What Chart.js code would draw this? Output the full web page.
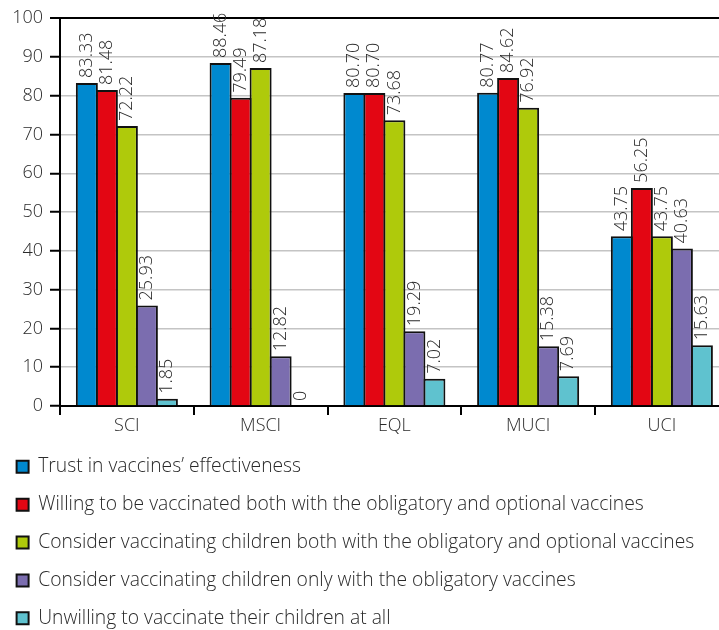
<!DOCTYPE html>
<html>
<head>
<meta charset="utf-8">
<script src="https://cdn.jsdelivr.net/npm/chart.js@4.4.1/dist/chart.umd.min.js"></script>
<style>
  html, body { margin: 0; padding: 0; overflow: hidden; background: #fff; width: 719px; height: 630px; }
  #wrap { position: absolute; left: -3px; top: 0; width: 740px; height: 638px; }
  canvas { display: block; }
</style>
</head>
<body>
<div id="wrap"><canvas id="chart" width="740" height="638"></canvas></div>
<script>
// Groups along the x axis
const categories = ['SCI', 'MSCI', 'EQL', 'MUCI', 'UCI'];

// Series names (legend)
const seriesNames = [
  'Trust in vaccines\u2019 effectiveness',
  'Willing to be vaccinated both with the obligatory and optional vaccines',
  'Consider vaccinating children both with the obligatory and optional vaccines',
  'Consider vaccinating children only with the obligatory vaccines',
  'Unwilling to vaccinate their children at all'
];

// Percentages per group
const trustEffectiveness     = [83.33, 88.46, 80.70, 80.77, 43.75];
const willingBothVaccines    = [81.48, 79.49, 80.70, 84.62, 56.25];
const childrenBothVaccines   = [72.22, 87.18, 73.68, 76.92, 43.75];
const childrenObligatoryOnly = [25.93, 12.82, 19.29, 15.38, 40.63];
const unwillingChildren      = [1.85, 0, 7.02, 7.69, 15.63];

// Value axis tick labels
const yTickValues = [0, 10, 20, 30, 40, 50, 60, 70, 80, 90, 100];

const seriesColors = ['#0089cf', '#e30613', '#afca0b', '#7b6daf', '#5fc2cf'];
const seriesValues = [trustEffectiveness, willingBothVaccines, childrenBothVaccines,
                      childrenObligatoryOnly, unwillingChildren];

const FONT = '"Open Sans", "Noto Sans", sans-serif';
const WEIGHT = 300;
const TEXT = '#2a2a2a';
const LEGEND_SIZE = 19.3;

// Vertical value labels above each bar
const valueLabels = {
  id: 'valueLabels',
  afterDatasetsDraw(chart) {
    const ctx = chart.ctx;
    ctx.save();
    ctx.font = WEIGHT + ' 18px ' + FONT;
    ctx.fillStyle = TEXT;
    ctx.textAlign = 'left';
    ctx.textBaseline = 'middle';
    chart.data.datasets.forEach((ds, di) => {
      const meta = chart.getDatasetMeta(di);
      meta.data.forEach((bar, i) => {
        const v = ds.data[i];
        const txt = v === 0 ? '0' : v.toFixed(2);
        ctx.save();
        ctx.translate(bar.x, bar.y - 5);
        ctx.rotate(-Math.PI / 2);
        ctx.fillText(txt, 0, 0);
        ctx.restore();
      });
    });
    ctx.restore();
  }
};

new Chart(document.getElementById('chart'), {
  type: 'bar',
  data: {
    labels: categories,
    datasets: seriesValues.map((vals, i) => ({
      label: seriesNames[i],
      data: vals,
      backgroundColor: seriesColors[i],
      borderColor: '#111111',
      borderWidth: 2,
      borderSkipped: 'start',
      categoryPercentage: 0.748,
      barPercentage: 1.1
    }))
  },
  options: {
    responsive: false,
    devicePixelRatio: 1,
    animation: false,
    layout: { padding: { top: 18.3, right: 8.25, bottom: 0, left: 1 } },
    plugins: {
      title: { display: false },
      tooltip: { enabled: false },
      legend: {
        display: true,
        position: 'bottom',
        align: 'start',
        labels: {
          boxWidth: 12,
          boxHeight: 12,
          padding: 37.9 - LEGEND_SIZE,
          color: TEXT,
          font: { family: FONT, size: LEGEND_SIZE, weight: WEIGHT }
        }
      }
    },
    scales: {
      x: {
        offset: true,
        grid: {
          offset: true,
          drawOnChartArea: false,
          drawTicks: true,
          tickLength: 9,
          color: '#000',
          lineWidth: 2
        },
        border: { display: true, color: '#000', width: 2 },
        ticks: {
          color: TEXT,
          padding: 0,
          font: { family: FONT, size: 18, weight: WEIGHT }
        },
        afterFit(scale) { scale.height = 32.55; }
      },
      y: {
        min: 0,
        max: 100,
        afterBuildTicks(scale) { scale.ticks = yTickValues.map(v => ({ value: v })); },
        grid: {
          drawTicks: true,
          tickLength: 10,
          tickColor: '#000',
          tickWidth: 2,
          color: (c) => (c.tick && c.tick.value === 100 ? '#000' : '#c4c4c4'),
          lineWidth: (c) => (c.tick && c.tick.value === 100 ? 2 : 1.5)
        },
        border: { display: true, color: '#000', width: 2 },
        ticks: {
          color: TEXT,
          padding: 7,
          font: { family: FONT, size: 18, weight: WEIGHT },
          callback: (v) => String(v)
        },
        afterFit(scale) { scale.width = 62; }
      }
    }
  },
  plugins: [valueLabels]
});
</script>
</body>
</html>
